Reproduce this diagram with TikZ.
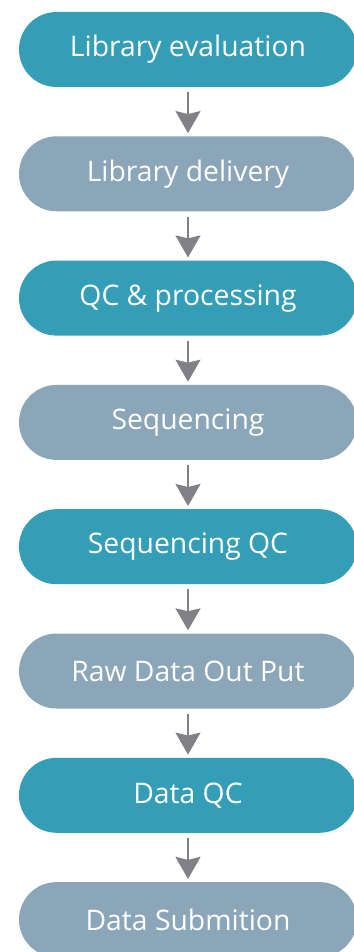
\documentclass[tikz,border=0pt]{standalone}
\usepackage{fontspec}
\setmainfont{Open Sans}
\usetikzlibrary{arrows.meta}
\definecolor{teal1}{HTML}{349EB6}
\definecolor{grayb}{HTML}{8BA6B8}
\definecolor{arr}{HTML}{808086}
\tikzset{
  stage/.style={rounded corners=37.5pt, minimum width=338pt, minimum height=75pt, inner sep=0pt,
     text=white, font=\fontsize{28.3}{32}\selectfont},
  tealbox/.style={stage, fill=teal1},
  graybox/.style={stage, fill=grayb},
  flow/.style={draw=arr, line width=2pt, -{Triangle[width=25pt,length=22pt,inset=3pt]}, shorten >=3pt}
}
\begin{document}
\begin{tikzpicture}[x=1pt,y=-1pt]
\useasboundingbox[fill=white] (0,0) rectangle (353,952);
\node[tealbox] (n1) at (188,49.5) {Library evaluation};
\node[graybox] (n2) at (188,173.8) {Library delivery};
\node[tealbox] (n3) at (188,298.1) {QC \& processing};
\node[graybox] (n4) at (188,422.4) {Sequencing};
\node[tealbox] (n5) at (188,546.7) {Sequencing QC};
\node[graybox] (n6) at (188,671) {Raw Data Out Put};
\node[tealbox] (n7) at (188,795.3) {Data QC};
\node[graybox] (n8) at (188,919.6) {Data Submition};
\foreach \a/\b in {n1/n2,n2/n3,n3/n4,n4/n5,n5/n6,n6/n7,n7/n8}
  \draw[flow] ([yshift=-5pt]\a.south) -- (\b.north);
\end{tikzpicture}
\end{document}
